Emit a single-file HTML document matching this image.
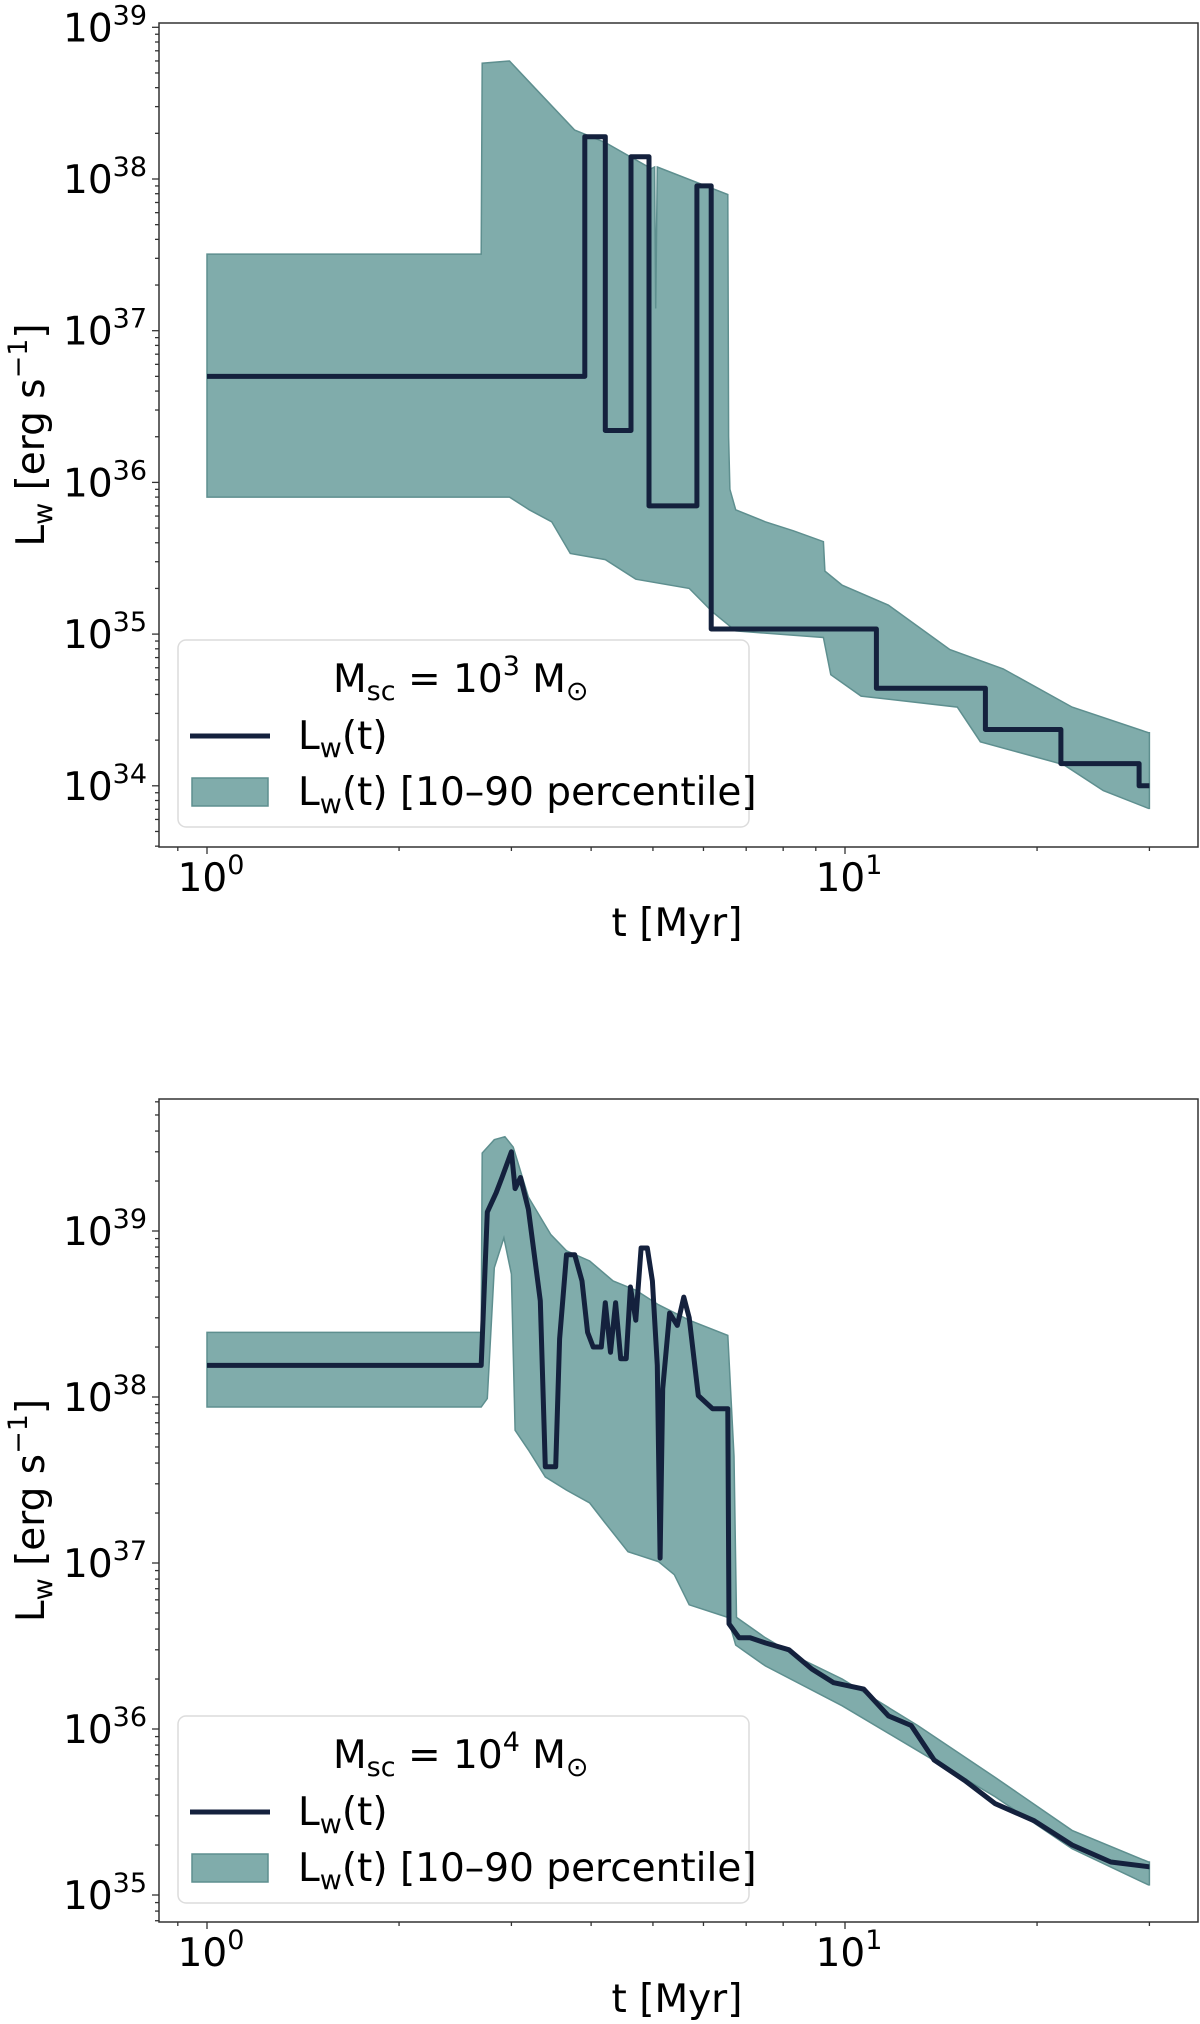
<!DOCTYPE html>
<html><head><meta charset="utf-8">
<style>
html,body{margin:0;padding:0;background:#fff;}
svg{display:block;font-family:"DejaVu Sans","Liberation Sans",sans-serif;}
</style></head>
<body>
<svg id="fig" width="1200" height="2024" viewBox="0 0 1200 2024" xmlns="http://www.w3.org/2000/svg"></svg>
<script>
// ---- Top panel data (M_sc = 1e3) ----
const topStepTimes = [1, 3.91, 4.21, 4.62, 4.93, 5.86, 6.17, 11.2, 16.6, 21.8, 28.9, 30];
const topStepLevels = [5e36, 1.9e38, 2.2e36, 1.4e38, 7e35, 9e37, 1.08e35, 4.4e34, 2.35e34, 1.4e34, 1e34];
const topUpperT = [1, 2.69, 2.7, 2.98, 3.28, 3.77, 3.88, 4.21, 4.97, 5.03, 5.05, 5.08, 6.55, 6.57, 6.6, 6.74, 7.5, 8.3, 9.25, 9.3, 9.9, 11.7, 14.6, 17.7, 22.7, 29.9, 30];
const topUpperL = [3.2e37, 3.2e37, 5.8e38, 6.0e38, 3.9e38, 2.1e38, 2.0e38, 1.74e38, 1.17e38, 1.2e38, 1.4e37, 1.2e38, 7.9e37, 2.0e36, 9e35, 6.6e35, 5.5e35, 4.8e35, 4.07e35, 2.6e35, 2.1e35, 1.55e35, 7.9e34, 5.9e34, 3.3e34, 2.24e34, 2.24e34];
const topLowerT = [1, 2.98, 3.2, 3.47, 3.71, 4.21, 4.7, 5.7, 6.2, 6.74, 9.25, 9.5, 10.6, 15, 16.3, 22, 25.4, 29.9, 30];
const topLowerL = [8e35, 8e35, 6.6e35, 5.5e35, 3.4e35, 3.1e35, 2.3e35, 2.0e35, 1.4e35, 1.05e35, 9.5e34, 5.4e34, 3.9e34, 3.3e34, 1.95e34, 1.38e34, 9.3e33, 7.1e33, 7.1e33];
const topYTicks = [34, 35, 36, 37, 38, 39];
// ---- Bottom panel data (M_sc = 1e4) ----
const botMedT = [1, 2.69, 2.75, 2.84, 2.9, 3.0, 3.04, 3.1, 3.19, 3.33, 3.39, 3.52, 3.57, 3.66, 3.77, 3.87, 3.95, 4.03, 4.15, 4.21, 4.29, 4.37, 4.45, 4.54, 4.61, 4.7, 4.79, 4.9, 4.99, 5.08, 5.13, 5.18, 5.31, 5.46, 5.59, 5.7, 5.89, 6.2, 6.55, 6.58, 6.82, 7.1, 7.5, 8.17, 8.87, 9.6, 10.7, 11.7, 12.7, 13.8, 15.4, 17.2, 19.8, 22.7, 26.1, 29.9, 30];
const botMedL = [1.55e38, 1.55e38, 1.3e39, 1.7e39, 2.1e39, 3.0e39, 1.8e39, 2.1e39, 1.35e39, 3.8e38, 3.8e37, 3.8e37, 2.24e38, 7.2e38, 7.2e38, 5e38, 2.45e38, 2.0e38, 2.0e38, 3.7e38, 1.86e38, 3.7e38, 1.7e38, 1.7e38, 4.6e38, 2.9e38, 7.9e38, 7.9e38, 5e38, 1.55e38, 1.07e37, 1.12e38, 3.2e38, 2.7e38, 4e38, 3e38, 1.02e38, 8.5e37, 8.5e37, 4.3e36, 3.55e36, 3.55e36, 3.3e36, 3.0e36, 2.3e36, 1.9e36, 1.74e36, 1.2e36, 1.05e36, 6.5e35, 4.9e35, 3.55e35, 2.8e35, 2.0e35, 1.58e35, 1.48e35, 1.48e35];
const botUpperT = [1, 2.69, 2.7, 2.82, 2.93, 3.02, 3.19, 3.46, 3.66, 3.98, 4.33, 4.7, 5.1, 5.7, 6.55, 6.7, 6.76, 7.5, 8.6, 9.9, 13, 17.2, 22.7, 29.9, 30];
const botUpperL = [2.45e38, 2.45e38, 2.95e39, 3.55e39, 3.7e39, 3.2e39, 1.6e39, 9.5e38, 7.6e38, 6.6e38, 5e38, 4.4e38, 3.6e38, 2.9e38, 2.35e38, 4.4e37, 4.7e36, 3.55e36, 2.6e36, 2.0e36, 1.05e36, 5.1e35, 2.45e35, 1.58e35, 1.58e35];
const botLowerT = [1, 2.69, 2.75, 2.82, 2.92, 3.0, 3.04, 3.19, 3.39, 3.66, 3.98, 4.21, 4.57, 5.1, 5.4, 5.7, 6.55, 6.74, 7.5, 9.9, 13, 17.2, 22.7, 29.9, 30];
const botLowerL = [8.7e37, 8.7e37, 9.8e37, 6e38, 9.1e38, 5.5e38, 6.3e37, 4.8e37, 3.3e37, 2.75e37, 2.3e37, 1.74e37, 1.17e37, 1.02e37, 8.5e36, 5.6e36, 4.7e36, 3.2e36, 2.4e36, 1.38e36, 7.4e35, 3.9e35, 1.9e35, 1.15e35, 1.15e35];
const botYTicks = [35, 36, 37, 38, 39];
const xTickExps = [0, 1];

const NS = "http://www.w3.org/2000/svg";
const fig = document.getElementById('fig');
function mk(tag, attrs, parent){const e=document.createElementNS(NS,tag);for(const k in attrs)e.setAttribute(k,attrs[k]);(parent||fig).appendChild(e);return e;}

function panel(cfg){
  const g = mk('g',{});
  
  
  const L=159,R=1198,T=cfg.top,B=cfg.bottom;
  const xs = t => 207 + 638*Math.log10(t);
  const ys = v => cfg.y0 - cfg.dec*(Math.log10(v) - cfg.e0);
  let d='';
  cfg.uT.forEach((t,i)=>{d+=(i?'L':'M')+xs(t).toFixed(1)+','+ys(cfg.uL[i]).toFixed(1);});
  for(let i=cfg.lT.length-1;i>=0;i--){d+='L'+xs(cfg.lT[i]).toFixed(1)+','+ys(cfg.lL[i]).toFixed(1);}
  d+='Z';
  const band=mk('path',{d:d,fill:'#80acab',stroke:'#5e8f8f','stroke-width':1.5},g);
  
  
  let m='';
  if(cfg.step){
    cfg.sT.forEach((t,i)=>{
      if(i===0){m+='M'+xs(t).toFixed(1)+','+ys(cfg.sL[0]).toFixed(1);}
      else{m+='L'+xs(t).toFixed(1)+','+ys(cfg.sL[i-1]).toFixed(1); if(i<cfg.sL.length) m+='L'+xs(t).toFixed(1)+','+ys(cfg.sL[i]).toFixed(1);}
    });
  } else {
    cfg.sT.forEach((t,i)=>{m+=(i?'L':'M')+xs(t).toFixed(1)+','+ys(cfg.sL[i]).toFixed(1);});
  }
  const med=mk('path',{d:m,fill:'none',stroke:'#14213d','stroke-width':5,'stroke-linejoin':'round'},g);
  
  
  const fr=mk('rect',{x:L,y:T,width:R-L,height:B-T,fill:'none',stroke:'#333','stroke-width':1.5},g);
  
  
  for(let e=-1;e<=1;e++){for(let k=1;k<10;k++){const t=k*Math.pow(10,e);const x=xs(t);if(x<L||x>R)continue;
    mk('line',{x1:x,x2:x,y1:B,y2:B+(k===1?7:4),stroke:'#333','stroke-width':1.3},g);}}
  xTickExps.forEach(e=>{
    const tx=mk('text',{x:xs(Math.pow(10,e))+4,y:cfg.xlabY,'font-size':39,'text-anchor':'middle',fill:'#000'},g);
    
    
    tx.innerHTML='10<tspan font-size="27" dy="-17">'+e+'</tspan>';
  });
  for(let e=cfg.e0-6;e<=cfg.e0+3;e++){for(let k=1;k<10;k++){const v=k*Math.pow(10,e);const y=ys(v);if(y<T||y>B)continue;
    mk('line',{x1:L,x2:L-(k===1?7:4),y1:y,y2:y,stroke:'#333','stroke-width':1.3},g);}}
  cfg.yt.forEach(e=>{
    const y=ys(Math.pow(10,e));
    const tx=mk('text',{x:147,y:y+14,'font-size':39,'text-anchor':'end',fill:'#000'},g);
    
    
    tx.innerHTML='10<tspan font-size="27" dy="-17">'+e+'</tspan>';
  });
  const xl=mk('text',{x:677,y:cfg.xtitleY,'font-size':39,'text-anchor':'middle',fill:'#000'},g);
  
  
  xl.textContent='t [Myr]';
  const yc=(T+B)/2;
  const yl=mk('text',{x:0,y:0,'font-size':39,'text-anchor':'middle',fill:'#000',transform:'translate(44,'+yc+') rotate(-90)'},g);
  
  
  yl.innerHTML='L<tspan font-size="27" dy="8">w</tspan><tspan dy="-8"> [erg s</tspan><tspan font-size="27" dy="-17">−1</tspan><tspan dy="17">]</tspan>';
  const lg=mk('g',{transform:'translate(0,'+cfg.legY+')'},g);
  
  
  mk('rect',{x:178,y:0,width:571,height:187,rx:8,fill:'#fff','fill-opacity':0.85,stroke:'#dcdcdc','stroke-width':1.5},lg);
  const ttl=mk('text',{x:333,y:52,'font-size':39,fill:'#000'},lg);
  
  
  ttl.innerHTML='M<tspan font-size="27" dy="8">sc</tspan><tspan dy="-8"> = 10</tspan><tspan font-size="27" dy="-17">'+cfg.mexp+'</tspan><tspan dy="17"> M</tspan><tspan font-size="27" dy="8">⊙</tspan>';
  const ll=mk('line',{x1:190,x2:270,y1:96,y2:96,stroke:'#14213d','stroke-width':5},lg);
  
  
  const t1=mk('text',{x:298,y:109,'font-size':39,fill:'#000'},lg);
  
  
  t1.innerHTML='L<tspan font-size="27" dy="8">w</tspan><tspan dy="-8">(t)</tspan>';
  const pr=mk('rect',{x:192,y:138,width:76,height:28,fill:'#80acab',stroke:'#5e8f8f','stroke-width':1.5},lg);
  
  
  const t2=mk('text',{x:298,y:165,'font-size':39,fill:'#000'},lg);
  
  
  t2.innerHTML='L<tspan font-size="27" dy="8">w</tspan><tspan dy="-8">(t) [10–90 percentile]</tspan>';
}

panel({name:'top-panel',top:23,bottom:847,y0:179,dec:151.7,e0:38,step:true,sT:topStepTimes,sL:topStepLevels,uT:topUpperT,uL:topUpperL,lT:topLowerT,lL:topLowerL,yt:topYTicks,xlabY:891,xtitleY:936,legY:640,mexp:3});
panel({name:'bottom-panel',top:1099,bottom:1922,y0:1231,dec:166,e0:39,step:false,sT:botMedT,sL:botMedL,uT:botUpperT,uL:botUpperL,lT:botLowerT,lL:botLowerL,yt:botYTicks,xlabY:1966,xtitleY:2012,legY:1716,mexp:4});
</script>
</body></html>
